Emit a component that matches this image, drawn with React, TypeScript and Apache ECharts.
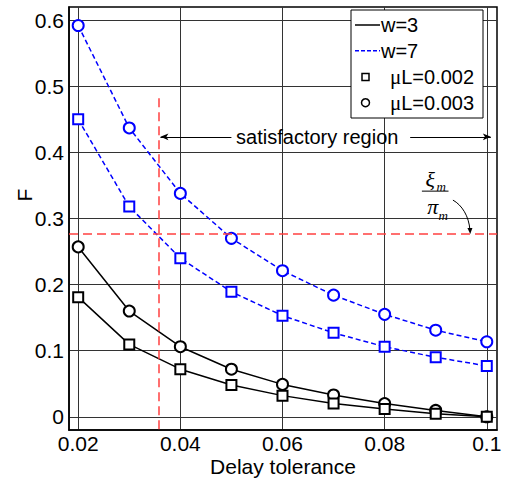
import React, { useEffect, useRef } from 'react';
import * as echarts from 'echarts';

const delays = [0.02, 0.03, 0.04, 0.05, 0.06, 0.07, 0.08, 0.09, 0.1];
const w3L002 = [0.181, 0.1095, 0.072, 0.048, 0.032, 0.02, 0.0116, 0.0045, 0];
const w3L003 = [0.257, 0.16, 0.106, 0.072, 0.049, 0.033, 0.02, 0.0096, 0];
const w7L002 = [0.45, 0.318, 0.24, 0.189, 0.153, 0.127, 0.106, 0.09, 0.077];
const w7L003 = [0.592, 0.437, 0.338, 0.27, 0.221, 0.184, 0.155, 0.131, 0.1135];
const xTicks = [0.02, 0.04, 0.06, 0.08, 0.1];
const yTicks = [0, 0.1, 0.2, 0.3, 0.4, 0.5, 0.6];
const delayThreshold = 0.0357;
const delayLineTop = 0.482;
const ratioThreshold = 0.2764;
const regionArrowY = 0.4236;
const regionLeftEnd = 0.0361;
const regionRightEnd = 0.1008;
const regionTextLeft = 0.05;
const regionTextRight = 0.085;
const regionTextCenter = 0.0668;
const ratioArrowTipX = 0.0967;
const ratioLabelX = 0.0899;
const ratioLabelY = 0.3414;
const legendLabels = ['w=3', 'w=7', 'μL=0.002', 'μL=0.003'];
const xName = 'Delay tolerance';
const yName = 'F';

const FONT = 'Liberation Sans, Arial, sans-serif';
const SERIF = 'Liberation Serif, Times New Roman, serif';
const X_MIN = 0.0182;
const X_MAX = 0.102;
const Y_MIN = -0.02;
const Y_MAX = 0.62;

const pair = (ys: number[]) => delays.map((d, i) => [d, ys[i]]);
const fmt = (v: number) => String(parseFloat(v.toFixed(3)));

export default function App() {
  const ref = useRef<HTMLDivElement>(null);
  useEffect(() => {
    if (!ref.current) return;
    const chart = echarts.init(ref.current, null, { renderer: 'svg' });
    const black = { color: '#000', width: 1.5, type: 'solid' as const };
    const blue = { color: '#0000ff', width: 1.5, type: [5, 3] as any };
    const redLine = { color: '#ff4040', width: 1.5, type: [9, 5] as any };
    const arrowLine = { color: '#000', width: 1, type: 'solid' as const };
    chart.setOption({
      animation: false,
      grid: {
        left: 69, right: 8, top: 7, bottom: 49, show: true, borderColor: '#000', borderWidth: 1.5,
        backgroundColor: '#fff', containLabel: false, outerBoundsMode: 'none',
      },
      xAxis: {
        type: 'value', min: X_MIN, max: X_MAX,
        name: xName, nameLocation: 'middle', nameGap: 28, nameMoveOverlap: false,
        nameTextStyle: { fontFamily: FONT, fontSize: 21, color: '#000', lineHeight: 16 },
        axisLine: { show: true, onZero: false, lineStyle: { color: '#000', width: 1.5 } },
        axisTick: { show: false, customValues: xTicks },
        axisLabel: { customValues: xTicks, formatter: fmt, fontFamily: FONT, fontSize: 21, lineHeight: 16, color: '#000', margin: 5, hideOverlap: false },
        splitLine: { show: true, lineStyle: { color: '#333', width: 1 } },
      },
      yAxis: {
        type: 'value', min: Y_MIN, max: Y_MAX,
        axisLine: { show: true, onZero: false, lineStyle: { color: '#000', width: 1.5 } },
        axisTick: { show: false, customValues: yTicks },
        axisLabel: { customValues: yTicks, formatter: fmt, fontFamily: FONT, fontSize: 21, color: '#000', margin: 5, hideOverlap: false },
        splitLine: { show: true, lineStyle: { color: '#333', width: 1 } },
      },
      series: [
        {
          type: 'line', name: 'w=7, μL=0.003', data: pair(w7L003), lineStyle: blue,
          symbol: 'emptyCircle', symbolSize: 11, itemStyle: { color: '#0000ff', borderWidth: 1.5 },
          markLine: {
            silent: true, symbol: 'none', label: { show: false }, animation: false,
            data: [
              [{ coord: [delayThreshold, delayLineTop], lineStyle: redLine }, { coord: [delayThreshold, Y_MIN] }],
              [{ coord: [X_MIN, ratioThreshold], lineStyle: redLine }, { coord: [X_MAX, ratioThreshold] }],
              [{ coord: [regionTextLeft, regionArrowY], lineStyle: arrowLine, symbol: 'none' }, { coord: [regionLeftEnd, regionArrowY], symbol: 'arrow', symbolSize: [5, 8] }],
              [{ coord: [regionTextRight, regionArrowY], lineStyle: arrowLine, symbol: 'none' }, { coord: [regionRightEnd, regionArrowY], symbol: 'arrow', symbolSize: [5, 8] }],
            ],
          },
        },
        {
          type: 'line', name: 'w=7, μL=0.002', data: pair(w7L002), lineStyle: blue,
          symbol: 'emptyRect', symbolSize: 10, itemStyle: { color: '#0000ff', borderWidth: 1.5 },
        },
        {
          type: 'line', name: 'w=3, μL=0.003', data: pair(w3L003), lineStyle: black,
          symbol: 'emptyCircle', symbolSize: 11, itemStyle: { color: '#000', borderWidth: 1.5 },
        },
        {
          type: 'line', name: 'w=3, μL=0.002', data: pair(w3L002), lineStyle: black,
          symbol: 'emptyRect', symbolSize: 10, itemStyle: { color: '#000', borderWidth: 1.5 },
        },
      ],
    });

    const p = (x: number, y: number) => chart.convertToPixel({ gridIndex: 0 }, [x, y]) as number[];
    const textPos = p(regionTextCenter, regionArrowY);
    const tip = p(ratioArrowTipX, ratioThreshold);
    const frac = p(ratioLabelX, ratioLabelY);

    const lx = 351, ly = 10, lw = 132, lh = 108;
    const rowY = [25, 50.7, 77, 102.7];
    const it = (s: string, dx: number, dy: number, size: number) => ({
      type: 'text', x: frac[0] + dx, y: frac[1] + dy,
      style: { text: s, font: `italic ${size}px ${SERIF}`, fill: '#000', align: 'center', verticalAlign: 'middle' },
    });
    chart.setOption({
      graphic: [
        {
          type: 'text', x: 24.5, y: 195, rotation: Math.PI / 2,
          style: { text: yName, font: `21px ${FONT}`, fill: '#000', align: 'center', verticalAlign: 'middle' },
        },
        {
          type: 'text', x: textPos[0], y: textPos[1],
          style: { text: 'satisfactory region', font: `20px ${FONT}`, fill: '#000', align: 'center', verticalAlign: 'middle' },
        },
        it('ξ', -5, -11.5, 22),
        it('m', 6, -4.4, 13),
        { type: 'line', shape: { x1: frac[0] - 13.3, y1: frac[1], x2: frac[0] + 13.3, y2: frac[1] }, style: { stroke: '#000', lineWidth: 1 } },
        it('π', -2.5, 15, 22),
        it('m', 8, 24, 13),
        {
          type: 'bezierCurve',
          shape: { x1: tip[0] - 17, y1: tip[1] - 34, cpx1: tip[0] - 8, cpy1: tip[1] - 29, cpx2: tip[0] - 1, cpy2: tip[1] - 18, x2: tip[0], y2: tip[1] - 4 },
          style: { stroke: '#000', lineWidth: 1, fill: 'none' },
        },
        { type: 'polygon', shape: { points: [[tip[0] - 2.5, tip[1] - 6], [tip[0] + 2.5, tip[1] - 6], [tip[0] + 0.3, tip[1]]] }, style: { fill: '#000' } },
        // legend
        { type: 'rect', shape: { x: lx, y: ly, width: lw, height: lh }, style: { fill: '#fff', stroke: '#000', lineWidth: 1 }, z: 10 },
        { type: 'line', shape: { x1: 355, y1: rowY[0], x2: 380, y2: rowY[0] }, style: { stroke: '#000', lineWidth: 1.5 }, z: 11 },
        { type: 'line', shape: { x1: 355, y1: rowY[1], x2: 380, y2: rowY[1] }, style: { stroke: '#0000ff', lineWidth: 1.5, lineDash: [4, 2] }, z: 11 },
        { type: 'rect', shape: { x: 362, y: rowY[2] - 3.5, width: 7, height: 7 }, style: { fill: 'none', stroke: '#000', lineWidth: 1.5 }, z: 11 },
        { type: 'circle', shape: { cx: 365.5, cy: rowY[3], r: 4 }, style: { fill: 'none', stroke: '#000', lineWidth: 1.5 }, z: 11 },
        ...legendLabels.map((t, i) => ({
          type: 'text', x: i < 2 ? 381 : 390, y: rowY[i], z: 11,
          style: t.startsWith('μ')
            ? { text: `{m|μ}{n|${t.slice(1)}}`, rich: { m: { font: `21px ${SERIF}`, fill: '#000' }, n: { font: `20px ${FONT}`, fill: '#000' } }, verticalAlign: 'middle' }
            : { text: t, font: `20px ${FONT}`, fill: '#000', verticalAlign: 'middle' },
        })),
      ],
    });
    return () => chart.dispose();
  }, []);
  return <div ref={ref} style={{ width: 505, height: 479, position: 'absolute', left: 0, top: 0 }} />;
}
